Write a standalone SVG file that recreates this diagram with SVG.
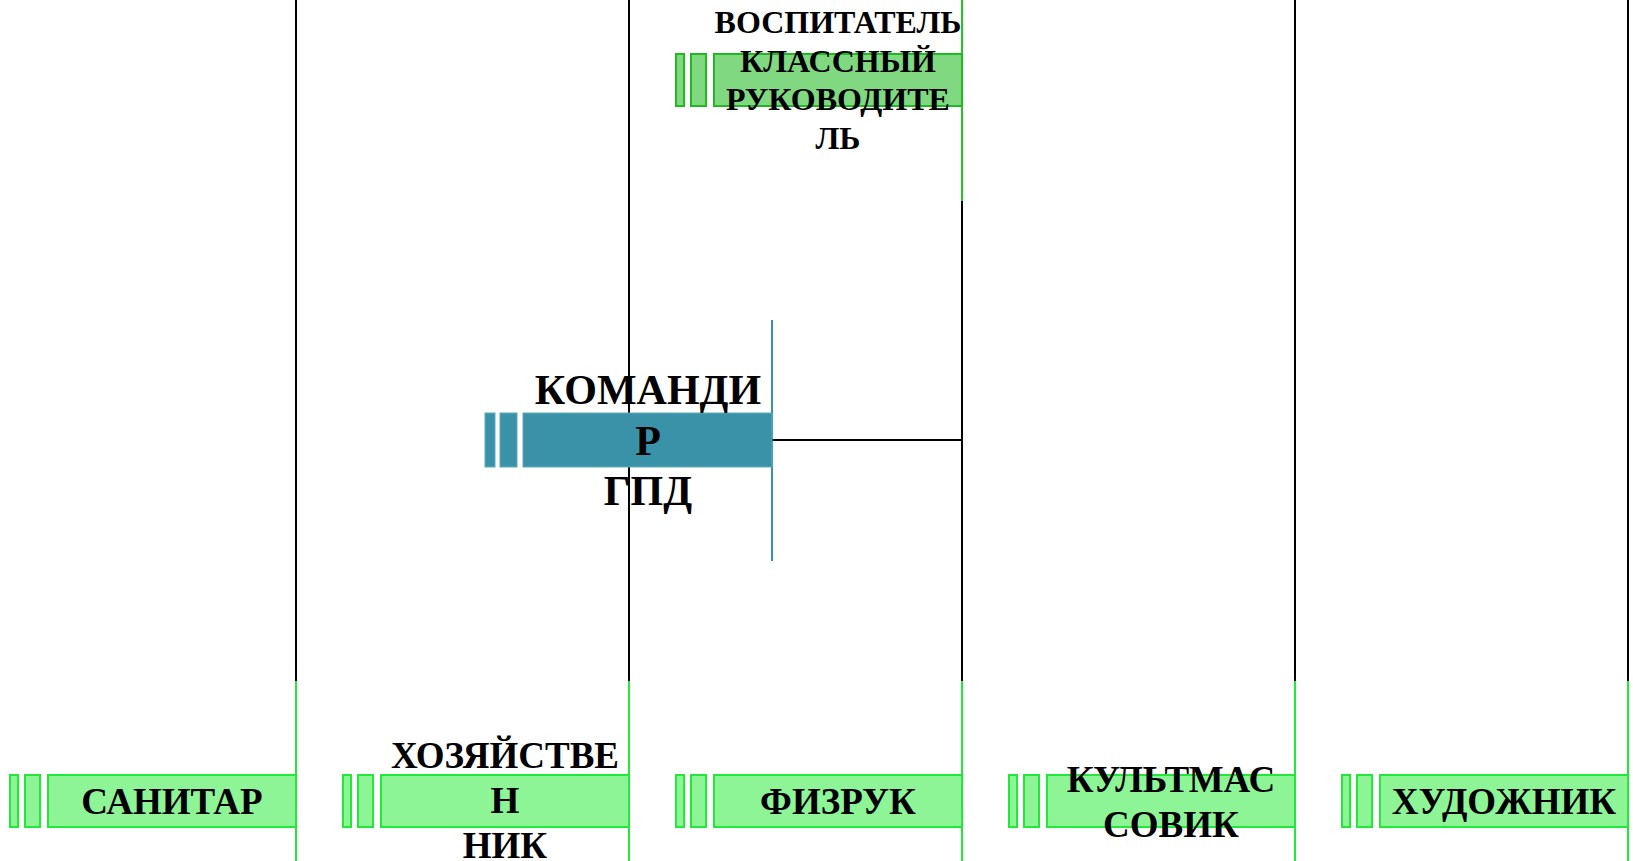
<svg xmlns="http://www.w3.org/2000/svg" width="1633" height="861" viewBox="0 0 1633 861">
<style>
.t{font-family:"Liberation Serif","Times New Roman",serif;font-weight:bold;fill:#000;text-anchor:middle}
.g{fill:#8ef597;stroke:#22e83a;stroke-width:2}
.gt{fill:#80d880;stroke:#22b822;stroke-width:2}
.k{fill:#3a92a8;stroke:#62aabb;stroke-width:1}
.lb{stroke:#000;stroke-width:2;fill:none}
.lg{stroke:#22e83a;stroke-width:2;fill:none}
.lgt{stroke:#22c822;stroke-width:2;fill:none}
.lt{stroke:#3a92a8;stroke-width:2;fill:none}
</style>
<rect width="1633" height="861" fill="#fff"/>
<g id="connectors">
<line class="lb" x1="296" y1="0" x2="296" y2="681"/>
<line class="lg" x1="296" y1="681" x2="296" y2="861"/>
<line class="lb" x1="629" y1="0" x2="629" y2="681"/>
<line class="lg" x1="629" y1="681" x2="629" y2="861"/>
<line class="lgt" x1="962" y1="0" x2="962" y2="201"/>
<line class="lb" x1="962" y1="201" x2="962" y2="681"/>
<line class="lg" x1="962" y1="681" x2="962" y2="861"/>
<line class="lb" x1="1295" y1="0" x2="1295" y2="681"/>
<line class="lg" x1="1295" y1="681" x2="1295" y2="861"/>
<line class="lb" x1="1628" y1="0" x2="1628" y2="681"/>
<line class="lg" x1="1628" y1="681" x2="1628" y2="861"/>
<line class="lt" x1="772" y1="320" x2="772" y2="561"/>
<line class="lb" x1="772" y1="440" x2="962" y2="440"/>
</g>
<g id="node-vospitatel">
<rect class="gt" x="676" y="54" width="8" height="52"/>
<rect class="gt" x="691" y="54" width="15" height="52"/>
<rect class="gt" x="714" y="54" width="248" height="52"/>
<text class="t" font-size="32" x="838" y="33">ВОСПИТАТЕЛЬ</text>
<text class="t" font-size="32" x="838" y="72">КЛАССНЫЙ</text>
<text class="t" font-size="32" x="838" y="110">РУКОВОДИТЕ</text>
<text class="t" font-size="32" x="838" y="149">ЛЬ</text>
</g>
<g id="node-komandir">
<rect class="k" x="485" y="413" width="10" height="54"/>
<rect class="k" x="500" y="413" width="17" height="54"/>
<rect class="k" x="523" y="413" width="249" height="54"/>
<text class="t" font-size="42" x="648" y="404">КОМАНДИ</text>
<text class="t" font-size="42" x="648" y="455">Р</text>
<text class="t" font-size="42" x="648" y="505">ГПД</text>
</g>
<g id="node-sanitar">
<rect class="g" x="10" y="775" width="8" height="52"/>
<rect class="g" x="25" y="775" width="15" height="52"/>
<rect class="g" x="48" y="775" width="248" height="52"/>
<text class="t" font-size="37" x="172" y="814">САНИТАР</text>
</g>
<g id="node-hozyaistvennik">
<rect class="g" x="343" y="775" width="8" height="52"/>
<rect class="g" x="358" y="775" width="15" height="52"/>
<rect class="g" x="381" y="775" width="248" height="52"/>
<text class="t" font-size="37" x="505" y="768">ХОЗЯЙСТВЕ</text>
<text class="t" font-size="37" x="505" y="813">Н</text>
<text class="t" font-size="37" x="505" y="858">НИК</text>
</g>
<g id="node-fizruk">
<rect class="g" x="676" y="775" width="8" height="52"/>
<rect class="g" x="691" y="775" width="15" height="52"/>
<rect class="g" x="714" y="775" width="248" height="52"/>
<text class="t" font-size="37" x="838" y="814">ФИЗРУК</text>
</g>
<g id="node-kultmassovik">
<rect class="g" x="1009" y="775" width="8" height="52"/>
<rect class="g" x="1024" y="775" width="15" height="52"/>
<rect class="g" x="1047" y="775" width="248" height="52"/>
<text class="t" font-size="37" x="1171" y="792">КУЛЬТМАС</text>
<text class="t" font-size="37" x="1171" y="837">СОВИК</text>
</g>
<g id="node-hudozhnik">
<rect class="g" x="1342" y="775" width="8" height="52"/>
<rect class="g" x="1357" y="775" width="15" height="52"/>
<rect class="g" x="1380" y="775" width="248" height="52"/>
<text class="t" font-size="37" x="1504" y="814">ХУДОЖНИК</text>
</g>
</svg>
